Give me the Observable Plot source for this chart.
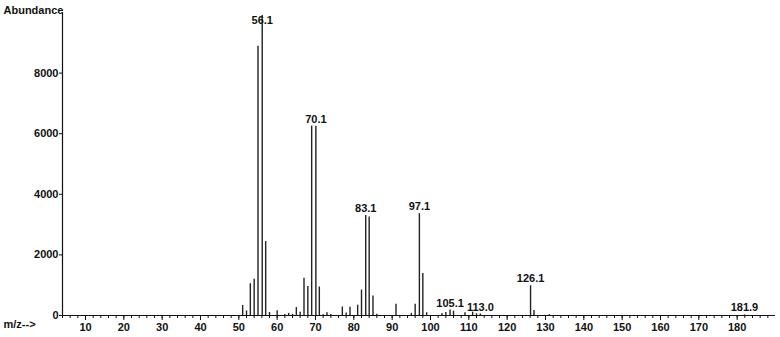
<!DOCTYPE html>
<html>
<head>
<meta charset="utf-8">
<script src="https://cdn.jsdelivr.net/npm/d3@7"></script>
<script src="https://cdn.jsdelivr.net/npm/@observablehq/plot@0.6"></script>
<style>
  html, body { margin: 0; padding: 0; background: #fff; }
  #chart svg { display: block; }
</style>
</head>
<body>
<div id="chart"></div>
<script>
// m/z positions of the spectrum lines
const mz = [51, 52, 53, 54, 55, 56.1, 57, 58, 60, 62, 63, 64, 65, 66, 67, 68, 69, 70.1, 71, 72, 73, 74,
            77, 78, 79, 81, 82, 83.1, 84, 85, 86, 91, 95, 96, 97.1, 98, 99,
            103, 104, 105.1, 106, 109, 111, 112, 113.0, 126.1, 127, 131, 181.9];
// abundance of each line
const abundance = [330, 150, 1050, 1200, 8890, 9900, 2440, 100, 160, 35, 70, 40, 260, 110, 1230, 960, 6250, 6250, 940, 25, 90, 30,
                   280, 80, 270, 340, 840, 3300, 3250, 640, 40, 370, 70, 370, 3360, 1390, 90,
                   70, 100, 180, 140, 90, 110, 60, 50, 980, 165, 30, 20];
// labelled peaks
const labelMz = [56.1, 70.1, 83.1, 97.1, 105.1, 113.0, 126.1, 181.9];
// axis ticks
const xMajorTicks = [10, 20, 30, 40, 50, 60, 70, 80, 90, 100, 110, 120, 130, 140, 150, 160, 170, 180];
const xMinorTicks = d3.range(4, 190, 2);
const yTicks = [0, 2000, 4000, 6000, 8000];

const data = mz.map((m, i) => ({mz: m, ab: abundance[i]}));
const labels = data.filter(d => labelMz.includes(d.mz));

const chart = Plot.plot({
  width: 780,
  height: 337,
  marginLeft: 62,
  marginRight: 5,
  marginTop: 12,
  marginBottom: 22,
  x: {domain: [4, 190]},
  y: {domain: [0, 10000]},
  style: {
    fontFamily: "'Liberation Sans', Arial, sans-serif",
    fontSize: "11px",
    fontWeight: "bold",
    color: "#111",
    background: "#fff"
  },
  marks: [
    Plot.axisX({ticks: xMinorTicks, tickSize: 3, tickFormat: () => "", label: null}),
    Plot.axisX({ticks: xMajorTicks, tickSize: 5, tickPadding: 3, tickFormat: d3.format("d"), label: null}),
    Plot.axisY({ticks: yTicks, tickSize: 3, tickPadding: 1, tickFormat: d3.format("d"), label: null}),
    Plot.ruleY([0], {stroke: "#111", strokeWidth: 1.2}),
    Plot.ruleX([4], {stroke: "#111", strokeWidth: 1.2}),
    Plot.ruleX(data, {x: "mz", y1: 0, y2: "ab", stroke: "#222", strokeWidth: 1.4}),
    Plot.text(labels, {x: "mz", y: d => Math.min(d.ab, 9500), dy: -7,
                       text: d => d.mz.toFixed(1), fill: "#111"}),
    Plot.text(["Abundance"], {text: d => d, frameAnchor: "top-left", dx: -59, dy: -6,
                              textAnchor: "start", fill: "#111"}),
    Plot.text(["m/z-->"], {text: d => d, frameAnchor: "bottom-left", dx: -59, dy: 12,
                           textAnchor: "start", fill: "#111"})
  ]
});
document.getElementById("chart").appendChild(chart);
</script>
</body>
</html>
